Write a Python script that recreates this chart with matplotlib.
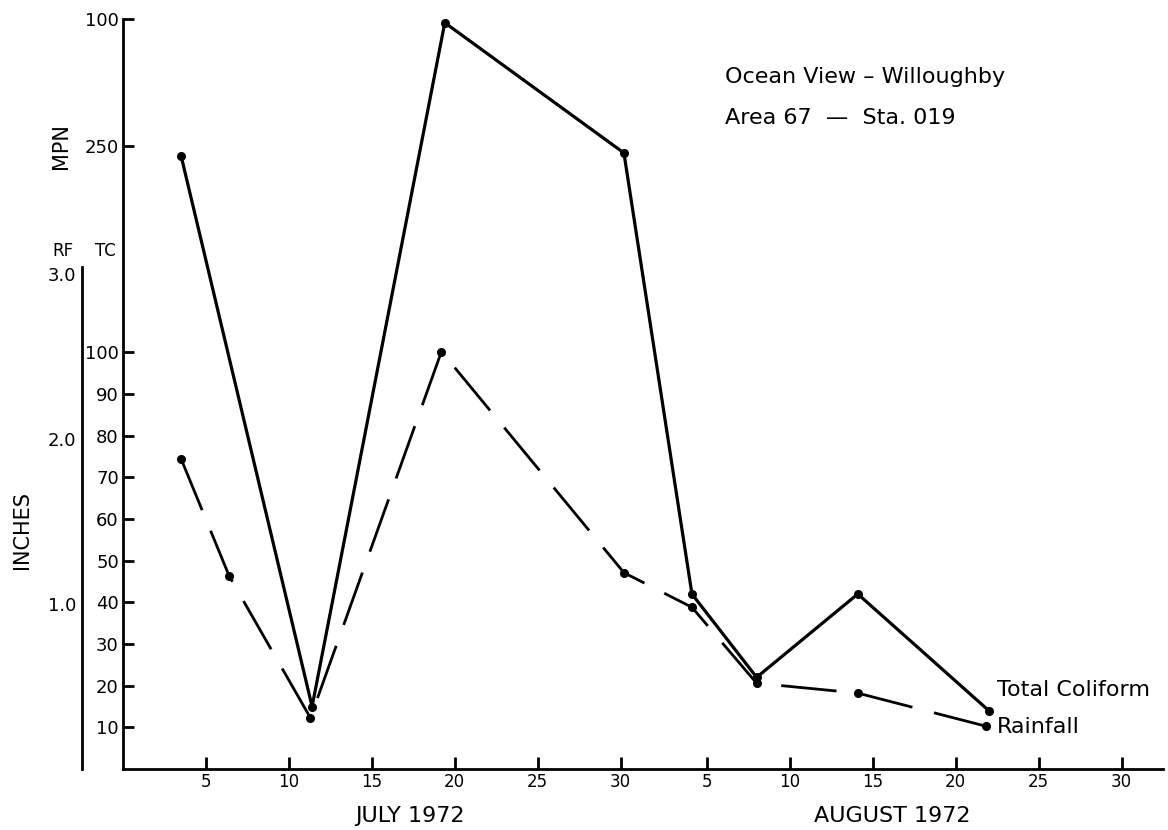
import numpy as np
import matplotlib.pyplot as plt

plt.rcParams['font.family'] = 'DejaVu Sans'

# sampling dates (day of month, fractional where the
# hand-plotted dot sits between days)
tc_month = ['Jul', 'Jul', 'Jul', 'Jul', 'Aug', 'Aug', 'Aug', 'Aug']
tc_dom = [3.5, 11.4, 19.4, 30.2, 4.1, 8.0, 14.1, 22.0]
tc_mpn = [243, 15, 978, 245, 42, 22, 42, 14]

rain_month = ['Jul', 'Jul', 'Jul', 'Jul', 'Jul', 'Aug', 'Aug', 'Aug', 'Aug']
rain_dom = [3.5, 6.4, 11.3, 19.2, 30.2, 4.1, 8.0, 14.1, 21.8]
rain_in = [1.88, 1.17, 0.31, 2.53, 1.19, 0.98, 0.52, 0.46, 0.26]

july_days = [5, 10, 15, 20, 25, 30]
aug_days = [5, 10, 15, 20, 25, 30]
MONTH0 = {'Jul': 0.0, 'Aug': 30.2}   # where each month starts on the drawn axis

tc_ticks = [10, 20, 30, 40, 50, 60, 70, 80, 90, 100, 250, 1000]
tc_labels = ['10', '20', '30', '40', '50', '60', '70', '80', '90', '100', '250', '100']
rf_ticks = [1.0, 2.0, 3.0]
rf_labels = ['1.0', '2.0', '3.0']

# broken MPN scale: linear to 100, then compressed
TC_BREAKS = [-1000, 0, 100, 250, 1000, 10000]
TC_POS = [-1000, 0, 100, 149.5, 180, 540]


def tc_fwd(v):
    return np.interp(v, TC_BREAKS, TC_POS)


def tc_inv(p):
    return np.interp(p, TC_POS, TC_BREAKS)


def axis_day(months, days):
    return [MONTH0[m] + d for m, d in zip(months, days)]


W, H = 1168, 830
fig = plt.figure(figsize=(W / 100, H / 100), dpi=100)
ax = fig.add_axes([123 / W, 61 / H, 1040 / W, 750 / H])
ax.set_yscale('function', functions=(tc_fwd, tc_inv))
ax.set_ylim(0, 1000)
ax.set_xlim(0, 62.7)
for s in ['top', 'right']:
    ax.spines[s].set_visible(False)
for s in ['left', 'bottom']:
    ax.spines[s].set_linewidth(2)

ax.plot(axis_day(tc_month, tc_dom), tc_mpn, color='black', lw=2.3,
        marker='o', ms=5.5, zorder=3)

ax.set_yticks(tc_ticks)
ax.set_yticklabels(tc_labels)
ax.yaxis.set_minor_locator(plt.NullLocator())
ax.tick_params(axis='y', direction='in', length=8, width=2, labelsize=13, pad=3)

xt = [MONTH0['Jul'] + d for d in july_days] + [MONTH0['Aug'] + d for d in aug_days]
ax.set_xticks(xt)
ax.set_xticklabels([str(d) for d in july_days + aug_days])
ax.tick_params(axis='x', direction='in', length=9, width=2, labelsize=12, pad=3)

# rainfall axis (inches) to the left
ax2 = ax.twinx()
ax2.yaxis.set_ticks_position('left')
ax2.yaxis.set_label_position('left')
for s in ['top', 'right', 'bottom']:
    ax2.spines[s].set_visible(False)
ax2.spines['left'].set_position(('axes', -41 / 1040))
ax2.spines['left'].set_linewidth(2)
ax2.set_ylim(0, 750 / 165)
ax2.spines['left'].set_bounds(0, 3.04)
ax2.set_yticks(rf_ticks)
ax2.set_yticklabels(rf_labels)
ax2.tick_params(axis='y', length=0, labelsize=13, pad=4)

ax2.plot(axis_day(rain_month, rain_dom), rain_in, color='black', lw=2,
         dashes=(20, 8), marker='o', ms=5.5, zorder=3)


def ftext(x, y, s, **kw):
    fig.text(x / W, 1 - y / H, s, **kw)


ftext(61, 146, 'MPN', rotation=90, ha='center', va='center', fontsize=15)
ftext(63, 251, 'RF', ha='center', va='center', fontsize=12)
ftext(105, 251, 'TC', ha='center', va='center', fontsize=12)
ftext(22, 530, 'INCHES', rotation=90, ha='center', va='center', fontsize=15)
ftext(410, 816, 'JULY 1972', ha='center', va='center', fontsize=16)
ftext(892, 816, 'AUGUST 1972', ha='center', va='center', fontsize=16)
ftext(725, 77, 'Ocean View – Willoughby', ha='left', va='center', fontsize=16)
ftext(725, 118, 'Area 67  —  Sta. 019', ha='left', va='center', fontsize=16)
ftext(997, 690, 'Total Coliform', ha='left', va='center', fontsize=16)
ftext(997, 727, 'Rainfall', ha='left', va='center', fontsize=16)

fig.savefig('out.png', dpi=100)
